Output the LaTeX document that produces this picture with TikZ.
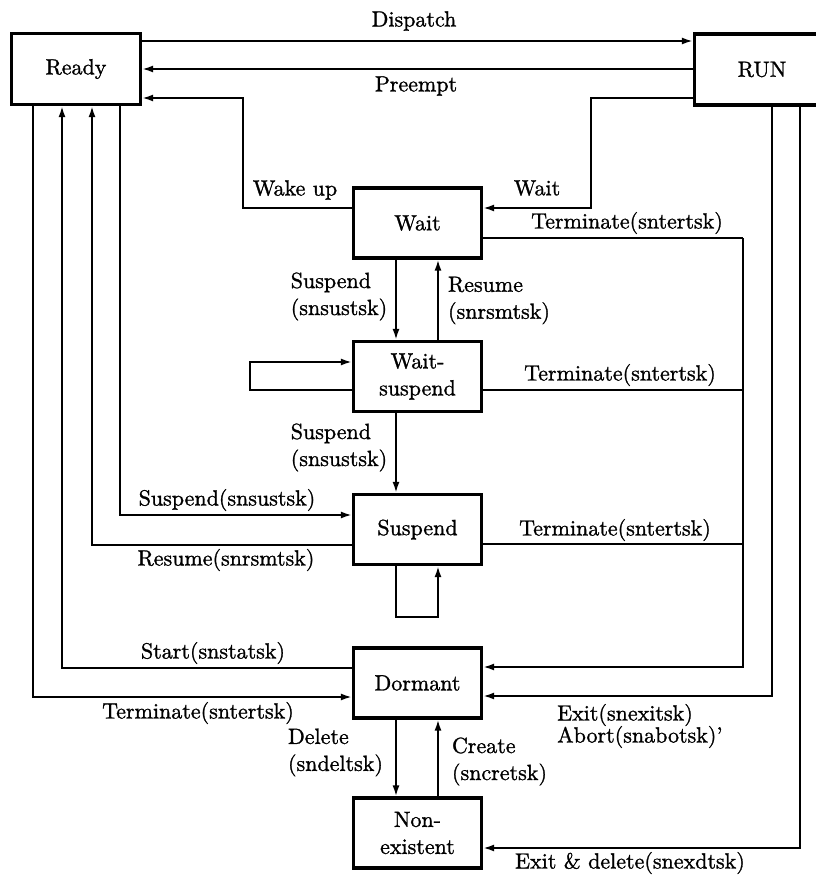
\documentclass[tikz,border=0pt]{standalone}
\usetikzlibrary{arrows.meta}
\font\dgf="[lmroman10-regular]:mapping=tex-text;embolden=1.2" at 22pt
\newcommand\dgfont{\fontsize{22}{27}\selectfont\dgf}
\begin{document}
\begin{tikzpicture}[x=1pt,y=-1pt,
  box/.style={draw,line width=3.2pt,minimum width=128pt,minimum height=70pt,inner sep=0pt,align=center,font=\dgfont},
  ln/.style={line width=2pt},
  arr/.style={line width=2pt,-{Latex[length=11pt,width=7pt]}},
  lab/.style={font=\dgfont,inner sep=0pt},
  labl/.style={font=\dgfont,inner sep=0pt,align=left}]
\useasboundingbox (0,0) rectangle (816,876);

% boxes
\node[box,minimum width=129pt,minimum height=71pt] (ready) at (76,69) {Ready};
\node[box,minimum width=135pt,minimum height=71pt] (run) at (762,69.5) {RUN};
\node[box] (wait) at (417.5,223) {Wait};
\node[box] (waitsus) at (417.5,376.5) {Wait-\\suspend};
\node[box] (suspend) at (417.5,529.5) {Suspend};
\node[box] (dormant) at (417.5,683) {Dormant};
\node[box] (nonex) at (417.5,833) {Non-\\existent};

% Ready <-> RUN
\draw[arr] (ready.east |- 0,41) -- (run.west |- 0,41);
\node[lab] (ldispatch) at (414,21) {Dispatch};
\draw[arr] (run.west |- 0,69) -- (ready.east |- 0,69);
\node[lab] (lpreempt) at (416,86) {Preempt};

% Wake up and Wait
\draw[arr] (wait.west |- 0,208) -| (243,98) -- (ready.east |- 0,98);
\node[lab] (lwake) at (295,190) {Wake up};
\draw[arr] (run.west |- 0,98) -| (591,208) -- (wait.east |- 0,208);
\node[lab] (lwait) at (537,188) {Wait};

% Wait <-> Wait-suspend
\draw[arr] (wait.south -| 396,0) -- (waitsus.north -| 396,0);
\node[labl] (lsus1) at (339,296.5) {Suspend\\(snsustsk)};
\draw[arr] (waitsus.north -| 438,0) -- (wait.south -| 438,0);
\node[labl] (lres1) at (499,300.5) {Resume\\(snrsmtsk)};

% Wait-suspend self loop
\draw[arr] (waitsus.west |- 0,390) -| (250,362) -- (waitsus.west |- 0,362);

% Wait-suspend -> Suspend
\draw[arr] (waitsus.south -| 396,0) -- (suspend.north -| 396,0);
\node[labl] (lsus2) at (339,447.5) {Suspend\\(snsustsk)};

% Terminate bus on the right
\coordinate (tbus) at (743,238);
\draw[ln] (wait.east |- 0,238) -- (tbus);
\draw[ln] (waitsus.east |- 0,390) -- (743,390);
\draw[ln] (suspend.east |- 0,544) -- (743,544);
\draw[arr] (tbus) |- (dormant.east |- 0,667);
\node[lab] (lt1) at (627,223) {Terminate(sntertsk)};
\node[lab] (lt2) at (620,375) {Terminate(sntertsk)};
\node[lab] (lt3) at (615,530) {Terminate(sntertsk)};

% Ready <-> Suspend
\draw[arr] (ready.south -| 120,0) |- (suspend.west |- 0,515);
\node[lab] (lsus3) at (227,500) {Suspend(snsustsk)};
\draw[arr] (suspend.west |- 0,545) -| (ready.south -| 92,0);
\node[lab] (lres2) at (226,560) {Resume(snrsmtsk)};

% Suspend self loop
\draw[arr] (suspend.south -| 396,0) |- (438,617) -- (suspend.south -| 438,0);

% Start and Terminate (left)
\draw[arr] (dormant.west |- 0,668) -| (ready.south -| 62,0);
\node[lab] (lstart) at (213,653) {Start(snstatsk)};
\draw[arr] (ready.south -| 33,0) |- (dormant.west |- 0,697);
\node[lab] (lt4) at (198,713) {Terminate(sntertsk)};

% RUN -> Dormant, RUN -> Non-existent
\draw[arr] (run.south -| 772,0) |- (dormant.east |- 0,696);
\node[labl,anchor=west] (lexit) at (557,726) {Exit(snexitsk)\\[-5pt]Abort(snabotsk)'};
\draw[arr] (run.south -| 800,0) |- (nonex.east |- 0,848);
\node[lab] (lexd) at (630,863) {Exit \& delete(snexdtsk)};

% Dormant <-> Non-existent
\draw[arr] (dormant.south -| 396,0) -- (nonex.north -| 396,0);
\node[labl] (ldel) at (335.5,752.5) {Delete\\(sndeltsk)};
\draw[arr] (nonex.north -| 438,0) -- (dormant.south -| 438,0);
\node[labl] (lcre) at (499.5,761.5) {Create\\(sncretsk)};
\end{tikzpicture}
\end{document}
